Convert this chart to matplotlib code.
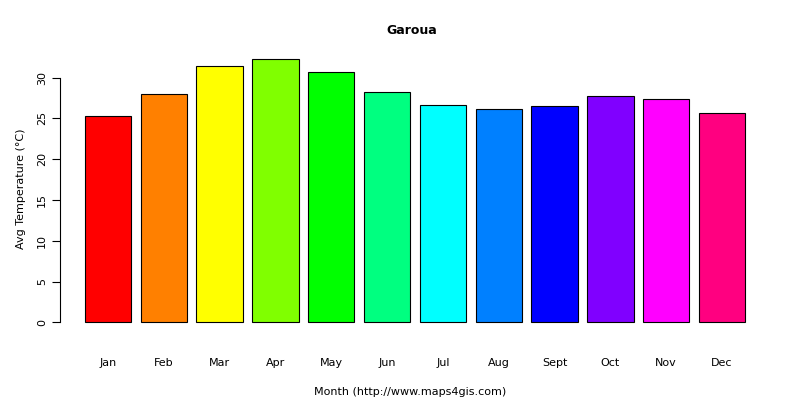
import matplotlib
matplotlib.use("Agg")
import matplotlib.pyplot as plt

months = ["Jan","Feb","Mar","Apr","May","Jun","Jul","Aug","Sept","Oct","Nov","Dec"]
temps = [25.3, 28.0, 31.4, 32.3, 30.7, 28.2, 26.7, 26.1, 26.5, 27.7, 27.4, 25.7]
colors = ["#FF0000","#FF8000","#FFFF00","#80FF00","#00FF00","#00FF80",
          "#00FFFF","#0080FF","#0000FF","#8000FF","#FF00FF","#FF0080"]

fig = plt.figure(figsize=(8, 4), dpi=100)
ax = fig.add_axes([60/800, 1-333/400, 700/800, 288/400])
x = list(range(len(months)))
ax.bar(x, temps, width=0.83, color=colors, edgecolor="black", linewidth=0.8)
ax.set_xlim(-0.86, 11.68)
ax.set_ylim(-1.3, 34)
for s in ["top", "right", "bottom"]:
    ax.spines[s].set_visible(False)
ax.spines["left"].set_bounds(0, 30)
ax.set_yticks([0, 5, 10, 15, 20, 25, 30])
ax.set_yticklabels([str(v) for v in [0, 5, 10, 15, 20, 25, 30]], rotation=90, va="center")
ax.set_xticks(x)
ax.set_xticklabels(months)
ax.tick_params(axis="x", length=0, pad=18, labelsize=8)
ax.tick_params(axis="y", labelsize=8, length=6)
ax.set_xlabel("Month (http://www.maps4gis.com)", fontsize=8, labelpad=14)
ax.set_ylabel("Avg Temperature (°C)", fontsize=8, labelpad=8)
fig.text(0.515, 1-30/400, "Garoua", ha="center", va="center", fontsize=9, fontweight="bold")
fig.savefig("out.png", dpi=100)
